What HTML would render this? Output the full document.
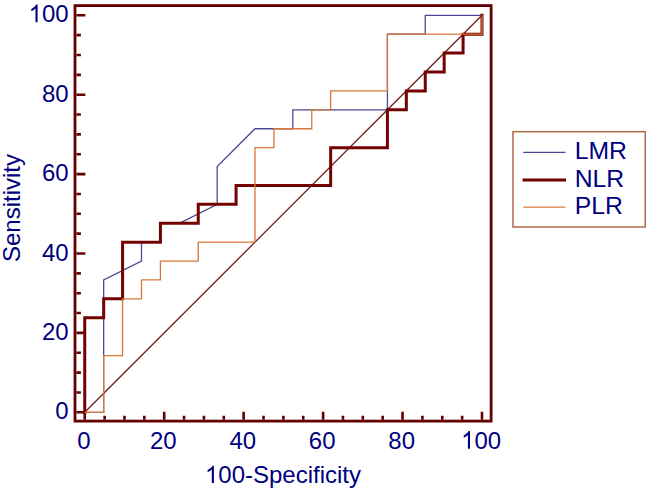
<!DOCTYPE html>
<html><head><meta charset="utf-8"><style>
html,body{margin:0;padding:0;background:#fff;}
body{width:646px;height:491px;overflow:hidden;}
svg{display:block;}
text{font-family:"Liberation Sans",sans-serif;font-size:24px;}
</style></head><body>
<svg width="646" height="491" viewBox="0 0 646 491">
<path d="M84.75,419.80 V411.80 M76.40,412.30 H85.40 M104.61,419.80 V415.80 M76.40,392.45 H80.90 M124.47,419.80 V415.80 M76.40,372.60 H80.90 M144.34,419.80 V415.80 M76.40,352.75 H80.90 M164.20,419.80 V411.80 M76.40,332.90 H85.40 M184.06,419.80 V415.80 M76.40,313.05 H80.90 M203.93,419.80 V415.80 M76.40,293.20 H80.90 M223.79,419.80 V415.80 M76.40,273.35 H80.90 M243.65,419.80 V411.80 M76.40,253.50 H85.40 M263.51,419.80 V415.80 M76.40,233.65 H80.90 M283.38,419.80 V415.80 M76.40,213.80 H80.90 M303.24,419.80 V415.80 M76.40,193.95 H80.90 M323.10,419.80 V411.80 M76.40,174.10 H85.40 M342.96,419.80 V415.80 M76.40,154.25 H80.90 M362.82,419.80 V415.80 M76.40,134.40 H80.90 M382.69,419.80 V415.80 M76.40,114.55 H80.90 M402.55,419.80 V411.80 M76.40,94.70 H85.40 M422.41,419.80 V415.80 M76.40,74.85 H80.90 M442.28,419.80 V415.80 M76.40,55.00 H80.90 M462.14,419.80 V415.80 M76.40,35.15 H80.90 M482.00,419.80 V411.80 M76.40,15.30 H85.40" stroke="#640000" stroke-width="2.6" fill="none"/>
<rect x="75" y="5.6" width="416.1" height="415.5" stroke="#640000" stroke-width="2.8" fill="none"/>
<path d="M84.75,412.30 L482.00,15.30" stroke="#701818" stroke-width="1.3" fill="none"/>
<path d="M84.75,412.30 L103.67,412.30 L103.67,279.97 L141.50,261.06 L141.50,242.16 L160.42,242.16 L160.42,223.25 L179.33,223.25 L217.17,204.35 L217.17,166.54 L255.00,128.73 L292.83,128.73 L292.83,109.82 L387.42,109.82 L387.42,34.20 L425.25,34.20 L425.25,15.30 L482.00,15.30" stroke="#4a4a94" stroke-width="1.3" fill="none"/>
<path d="M84.75,412.30 L84.75,317.78 L103.67,317.78 L103.67,298.87 L122.58,298.87 L122.58,242.16 L160.42,242.16 L160.42,223.25 L198.25,223.25 L198.25,204.35 L236.08,204.35 L236.08,185.44 L330.67,185.44 L330.67,147.63 L387.42,147.63 L387.42,109.82 L406.33,109.82 L406.33,90.92 L425.25,90.92 L425.25,72.01 L444.17,72.01 L444.17,53.11 L463.08,53.11 L463.08,34.20 L482.00,34.20 L482.00,15.30" stroke="#740000" stroke-width="3" fill="none" stroke-linejoin="miter" stroke-linecap="square"/>
<path d="M84.75,412.30 L103.67,412.30 L103.67,355.59 L122.58,355.59 L122.58,298.87 L141.50,298.87 L141.50,279.97 L160.42,279.97 L160.42,261.06 L198.25,261.06 L198.25,242.16 L255.00,242.16 L255.00,147.63 L273.92,147.63 L273.92,128.73 L311.75,128.73 L311.75,109.82 L330.67,109.82 L330.67,90.92 L387.42,90.92 L387.42,34.20 L482.00,34.20 L482.00,15.30" stroke="#d8783a" stroke-width="1.3" fill="none"/>
<g fill="#000080">
<g transform="translate(55.35,419.30) scale(1.0,1.035) translate(-55.35,0)"><text x="55.35" y="0">0</text></g>
<g transform="translate(77.18,448.80) scale(1.0,1.035) translate(-77.18,0)"><text x="77.18" y="0">0</text></g>
<g transform="translate(42.00,339.90) scale(1.0,1.035) translate(-42.00,0)"><text x="42.00" y="0">20</text></g>
<g transform="translate(149.95,448.80) scale(1.0,1.035) translate(-149.95,0)"><text x="149.95" y="0">20</text></g>
<g transform="translate(42.00,260.50) scale(1.0,1.035) translate(-42.00,0)"><text x="42.00" y="0">40</text></g>
<g transform="translate(229.40,448.80) scale(1.0,1.035) translate(-229.40,0)"><text x="229.40" y="0">40</text></g>
<g transform="translate(42.00,181.10) scale(1.0,1.035) translate(-42.00,0)"><text x="42.00" y="0">60</text></g>
<g transform="translate(308.85,448.80) scale(1.0,1.035) translate(-308.85,0)"><text x="308.85" y="0">60</text></g>
<g transform="translate(42.00,101.70) scale(1.0,1.035) translate(-42.00,0)"><text x="42.00" y="0">80</text></g>
<g transform="translate(388.30,448.80) scale(1.0,1.035) translate(-388.30,0)"><text x="388.30" y="0">80</text></g>
<g transform="translate(28.66,22.30) scale(1.0,1.035) translate(-28.66,0)"><path transform="translate(28.66,0) scale(0.011719,-0.011719)" d="M763,0 L583,0 L583,1147 Q518,1085 412.5,1023 Q307,961 223,930 L223,1104 Q374,1175 487,1276 Q600,1377 647,1472 L763,1472 Z"/><text x="42.00" y="0">00</text></g>
<g transform="translate(461.08,448.80) scale(1.0,1.035) translate(-461.08,0)"><path transform="translate(461.08,0) scale(0.011719,-0.011719)" d="M763,0 L583,0 L583,1147 Q518,1085 412.5,1023 Q307,961 223,930 L223,1104 Q374,1175 487,1276 Q600,1377 647,1472 L763,1472 Z"/><text x="474.43" y="0">00</text></g>
<g transform="translate(204.96,483.00) translate(-204.96,0)"><path transform="translate(204.96,0) scale(0.011719,-0.011719)" d="M763,0 L583,0 L583,1147 Q518,1085 412.5,1023 Q307,961 223,930 L223,1104 Q374,1175 487,1276 Q600,1377 647,1472 L763,1472 Z"/><text x="218.31" y="0">00-Specificity</text></g>
<g transform="translate(19.6,208) rotate(-90)"><text x="-54.02" y="0">Sensitivity</text></g>
<g transform="translate(574.70,159.20) scale(1.03,1.035) translate(-574.70,0)"><text x="574.70" y="0">LMR</text></g>
<g transform="translate(574.70,186.50) scale(1.03,1.035) translate(-574.70,0)"><text x="574.70" y="0">NLR</text></g>
<g transform="translate(574.70,214.00) scale(1.03,1.035) translate(-574.70,0)"><text x="574.70" y="0">PLR</text></g>
</g>
<rect x="513" y="131.7" width="132.3" height="95.3" stroke="#b06a48" stroke-width="1.5" fill="none"/>
<path d="M523.2,152.3 H565.5" stroke="#4a4a94" stroke-width="1.3"/>
<path d="M522.6,180 H566" stroke="#740000" stroke-width="3"/>
<path d="M523.2,207.2 H565.5" stroke="#d8783a" stroke-width="1.3"/>
</svg>
</body></html>
